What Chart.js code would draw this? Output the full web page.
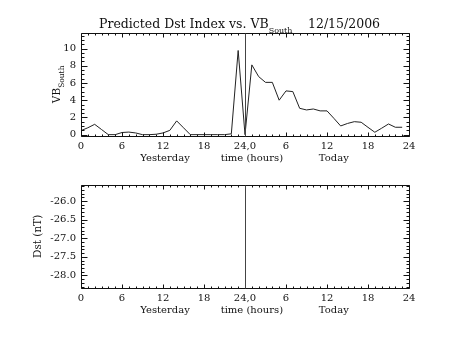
<!DOCTYPE html>
<html><head><meta charset="utf-8">
<script src="https://cdn.jsdelivr.net/npm/chart.js@4/dist/chart.umd.min.js"></script>
<style>
html,body{margin:0;padding:0;background:#fff;width:453px;height:340px;overflow:hidden}
.c{position:absolute;left:0;width:453px;height:170px}
</style></head><body>
<div class="c" style="top:0"><canvas id="c1" width="453" height="170"></canvas></div>
<div class="c" style="top:170px"><canvas id="c2" width="453" height="170"></canvas></div>
<script>
// ---- data ----
const titleMain = 'Predicted Dst Index vs. VB';
const titleSub = 'South';
const titleDate = '12/15/2006';
const xTickValues = [0, 6, 12, 18, 24, 30, 36, 42, 48];
const xTickLabels = ['0', '6', '12', '18', '24,0', '6', '12', '18', '24'];
const xSubLabels = ['Yesterday', 'time (hours)', 'Today'];
const xSubLabelPos = [12.3, 25, 37];
const dayBoundary = 24;
// VB_South, hourly: yesterday 0..23 then today 0..23
const vbSouth = [0.47, 0.8, 1.2, 0.6, 0, 0, 0.25, 0.3, 0.2, 0, 0, 0.05, 0.2, 0.5, 1.6, 0.8, 0, 0, 0, 0, 0, 0, 0.1, 9.77,
                 0, 8.1, 6.74, 6.07, 6.07, 4.0, 5.08, 5.0, 3.06, 2.87, 2.98, 2.76, 2.76, 1.9, 1.01, 1.3, 1.51, 1.44, 0.85, 0.28, 0.75, 1.24, 0.86, 0.86];
const vbTicks = [0, 2, 4, 6, 8, 10];
const vbRange = [-0.12, 11.8];
const dstValues = [];
const dstTicks = [-26.0, -26.5, -27.0, -27.5, -28.0];
const dstRange = [-28.33, -25.57];

const FONT = "'DejaVu Serif', 'Liberation Serif', serif";
const INK = '#111';

const framePlugin = {
  id: 'frame',
  afterDatasetsDraw(chart, args, o) {
    const {ctx, chartArea: a, scales: {x, y}} = chart;
    ctx.save();
    ctx.strokeStyle = INK; ctx.lineWidth = 1;
    const L = Math.round(a.left) + 0.5, R = Math.round(a.right) + 0.5, T = Math.round(a.top) + 0.5, B = Math.round(a.bottom) + 0.5;
    ctx.beginPath(); ctx.rect(L, T, R - L, B - T); ctx.stroke();
    ctx.beginPath();
    for (let h = x.min; h <= x.max + 1e-9; h += o.xMinor) {
      const px = Math.round(x.getPixelForValue(h)) + 0.5;
      const len = (Math.abs(h % o.xMajor) < 1e-6) ? 4 : 2;
      ctx.moveTo(px, B); ctx.lineTo(px, B - len);
      ctx.moveTo(px, T); ctx.lineTo(px, T + len);
    }
    const start = Math.ceil(y.min / o.yMinor - 1e-9) * o.yMinor;
    for (let v = start; v <= y.max + 1e-9; v += o.yMinor) {
      const py = Math.round(y.getPixelForValue(v)) + 0.5;
      const isMajor = Math.abs(v / o.yMajor - Math.round(v / o.yMajor)) < 1e-6;
      const len = isMajor ? 6 : 3;
      ctx.moveTo(L, py); ctx.lineTo(L + len, py);
      ctx.moveTo(R, py); ctx.lineTo(R - len, py);
    }
    ctx.stroke();
    // day boundary line
    const bx = Math.round(x.getPixelForValue(dayBoundary)) + 0.5;
    ctx.strokeStyle = '#444';
    ctx.beginPath(); ctx.moveTo(bx, T); ctx.lineTo(bx, B); ctx.stroke();
    // x sub labels
    ctx.fillStyle = INK; ctx.font = '10px ' + FONT; ctx.textAlign = 'center'; ctx.textBaseline = 'middle';
    xSubLabels.forEach((t, i) => ctx.fillText(t, x.getPixelForValue(xSubLabelPos[i]), B + 21.5));
    // y title
    ctx.save();
    ctx.translate(o.yTitleX, (a.top + a.bottom) / 2);
    ctx.rotate(-Math.PI / 2);
    ctx.font = '10.5px ' + FONT; ctx.textBaseline = 'alphabetic'; ctx.textAlign = 'left';
    const main = o.yTitle, sub = o.yTitleSub || '';
    const wm = ctx.measureText(main).width;
    ctx.font = '7.5px ' + FONT;
    const ws = ctx.measureText(sub).width;
    const x0 = -(wm + ws) / 2;
    ctx.font = '10.5px ' + FONT;
    ctx.fillText(main, x0, 4);
    if (sub) { ctx.font = '7.5px ' + FONT; ctx.fillText(sub, x0 + wm, 8); }
    ctx.restore();
    // title
    if (o.title) {
      ctx.textAlign = 'left'; ctx.textBaseline = 'alphabetic';
      ctx.font = '12.5px ' + FONT;
      ctx.fillText(titleMain, 99, 28);
      const w1 = ctx.measureText(titleMain).width;
      ctx.font = '8px ' + FONT;
      ctx.fillText(titleSub, 99 + w1, 33);
      ctx.font = '12.5px ' + FONT;
      ctx.fillText(titleDate, 308, 28);
    }
    ctx.restore();
  }
};

function makeChart(id, data, yTicks, yRange, yDecimals, frameOpts, padTop) {
  return new Chart(document.getElementById(id), {
    type: 'line',
    data: { datasets: [{ data: data.map((v, i) => ({x: i, y: v})), borderColor: '#222', borderWidth: 1, pointRadius: 0, tension: 0, fill: false }] },
    options: {
      responsive: false, animation: false, devicePixelRatio: 1,
      layout: { padding: { left: 0, top: padTop, right: 44, bottom: 170 - padTop - 102.7 - 30 } },
      plugins: { legend: { display: false }, tooltip: { enabled: false }, frame: frameOpts },
      scales: {
        x: {
          type: 'linear', min: 0, max: 48,
          grid: { display: false, drawTicks: false }, border: { display: false },
          afterBuildTicks: s => { s.ticks = xTickValues.map(v => ({value: v})); },
          afterFit: s => { s.height = 30; },
          ticks: { padding: 5, maxRotation: 0, autoSkip: false, color: INK, font: { family: FONT, size: 10 },
                   callback: (v) => xTickLabels[xTickValues.indexOf(v)] }
        },
        y: {
          min: yRange[0], max: yRange[1],
          grid: { display: false, drawTicks: false }, border: { display: false },
          afterBuildTicks: s => { s.ticks = yTicks.map(v => ({value: v})); },
          afterFit: s => { s.width = 81; },
          ticks: { padding: 5, color: INK, font: { family: FONT, size: 10 },
                   callback: (v) => v.toFixed(yDecimals) }
        }
      }
    },
    plugins: [framePlugin]
  });
}

makeChart('c1', vbSouth, vbTicks, vbRange, 0,
  { xMinor: 1, xMajor: 6, yMinor: 0.5, yMajor: 2, yTitle: 'VB', yTitleSub: 'South', yTitleX: 56, title: true }, 33);
makeChart('c2', dstValues, dstTicks, dstRange, 1,
  { xMinor: 1, xMajor: 6, yMinor: 0.1, yMajor: 0.5, yTitle: 'Dst (nT)', yTitleX: 37, title: false }, 15);
</script>
</body></html>
